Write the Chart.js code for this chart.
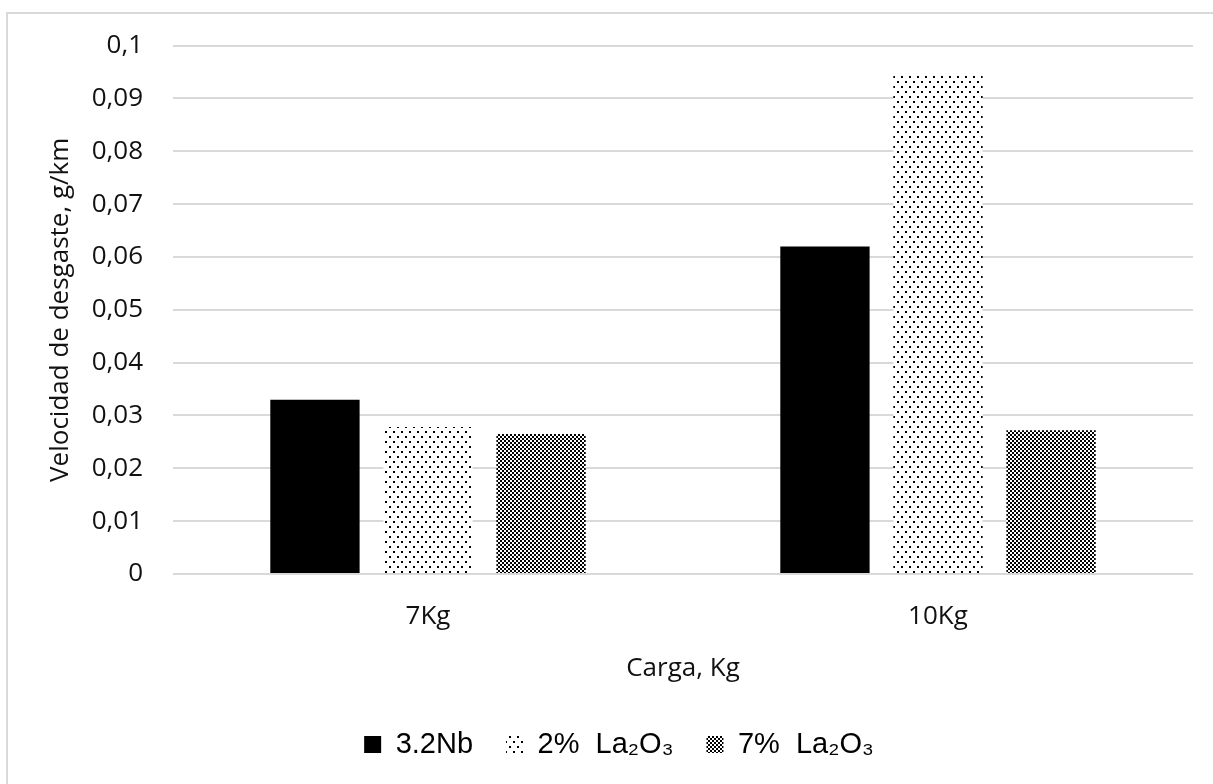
<!DOCTYPE html>
<html><head><meta charset="utf-8">
<script src="https://cdn.jsdelivr.net/npm/chart.js@4/dist/chart.umd.min.js"></script>
<style>
html,body{margin:0;padding:0;background:#fff;}
#wrap{position:relative;width:1213px;height:784px;overflow:hidden;}
#frame{position:absolute;left:6px;top:12px;width:1300px;height:900px;border-left:2px solid #d9d9d9;border-top:2px solid #d9d9d9;}
canvas{position:absolute;left:0;top:0;}
</style></head><body>
<div id="wrap"><div id="frame"></div><canvas id="c" width="1213" height="784"></canvas></div>
<script>
const categories = ['7Kg', '10Kg'];
const seriesNames = ['3.2Nb', '2%  La₂O₃', '7%  La₂O₃'];
const nb32 = [0.033, 0.062];
const la2o3_2 = [0.0278, 0.0943];
const la2o3_7 = [0.0265, 0.0272];
const yTickLabels = ['0', '0,01', '0,02', '0,03', '0,04', '0,05', '0,06', '0,07', '0,08', '0,09', '0,1'];
const yTitle = 'Velocidad de desgaste, g/km';
const xTitle = 'Carga, Kg';

const ctx = document.getElementById('c').getContext('2d');

function dotPattern() {
  const c = document.createElement('canvas'); c.width = 8; c.height = 10;
  const x = c.getContext('2d');
  x.fillStyle = '#fff'; x.fillRect(0, 0, 8, 10);
  x.fillStyle = '#000'; x.fillRect(1, 1, 2, 2); x.fillRect(5, 6, 2, 2);
  return ctx.createPattern(c, 'repeat');
}
function checkPattern() {
  const c = document.createElement('canvas'); c.width = 4; c.height = 4;
  const x = c.getContext('2d');
  x.fillStyle = '#fff'; x.fillRect(0, 0, 4, 4);
  x.fillStyle = '#000'; x.fillRect(0, 0, 2, 2); x.fillRect(2, 2, 2, 2);
  return ctx.createPattern(c, 'repeat');
}

const tickFont = { family: "'Open Sans', sans-serif", size: 26 };

new Chart(ctx, {
  type: 'bar',
  data: {
    labels: categories,
    datasets: [
      { label: seriesNames[0], data: nb32, backgroundColor: '#000', borderWidth: 0 },
      { label: seriesNames[1], data: la2o3_2, backgroundColor: dotPattern(), borderWidth: 0 },
      { label: seriesNames[2], data: la2o3_7, backgroundColor: checkPattern(), borderWidth: 0 }
    ]
  },
  options: {
    responsive: false,
    animation: false,
    datasets: { bar: { categoryPercentage: 0.665, barPercentage: 0.79 } },
    layout: { padding: { left: 45, right: 20, top: 45, bottom: 15 } },
    plugins: {
      tooltip: { enabled: false },
      legend: {
        position: 'bottom',
        labels: {
          font: { family: "'Liberation Sans', Arial, sans-serif", size: 29 },
          color: '#000', boxWidth: 17, boxHeight: 17, padding: 33
        }
      }
    },
    scales: {
      x: {
        grid: { display: false, drawTicks: false },
        border: { display: false },
        ticks: { font: tickFont, color: '#111', padding: 27 },
        title: { display: true, text: xTitle, font: tickFont, color: '#111', padding: { top: 0, bottom: 13 } },
        afterFit: (s) => { s.height = 123; }
      },
      y: {
        min: 0, max: 0.1,
        grid: { color: '#d9d9d9', lineWidth: 2, drawTicks: false },
        border: { display: false },
        ticks: { stepSize: 0.01, font: tickFont, color: '#111', padding: 30,
          callback: (v, i) => yTickLabels[i] },
        title: { display: true, text: yTitle, font: tickFont, color: '#111', padding: { top: 0, bottom: 0 } },
        afterFit: (s) => { s.width = 128; }
      }
    }
  }
});
</script>
</body></html>
